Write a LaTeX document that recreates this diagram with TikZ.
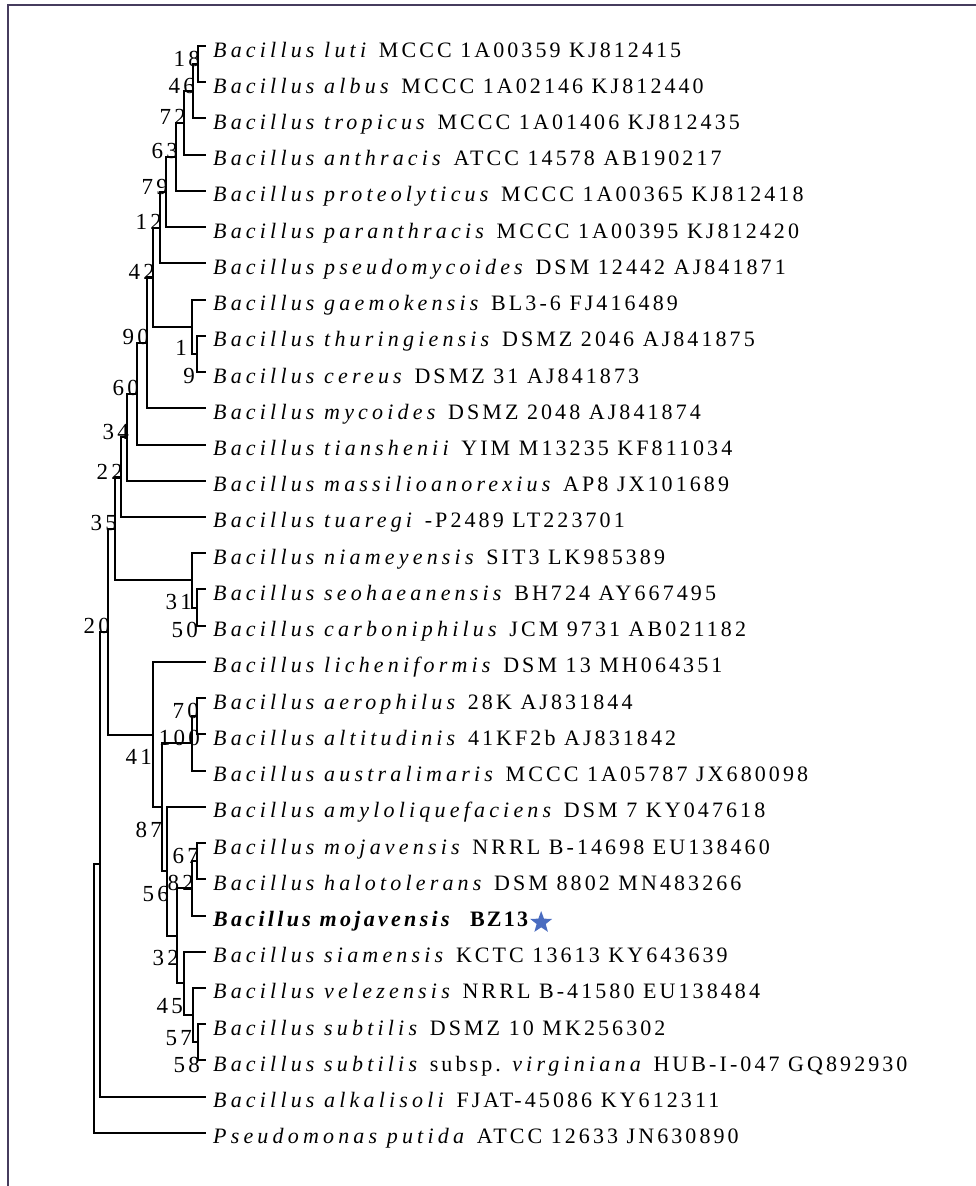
\documentclass[tikz,border=0pt]{standalone}
\usepackage{fontspec}
\setmainfont[LetterSpace=14, ItalicFeatures={LetterSpace=19}, BoldFeatures={LetterSpace=10}, BoldItalicFeatures={LetterSpace=15}]{Liberation Serif}
\usetikzlibrary{positioning, calc, shapes.geometric}
\definecolor{frameline}{HTML}{463C5E}
\definecolor{starblue}{HTML}{4A6CC0}

\begin{document}
\begin{tikzpicture}[
    x=1pt, y=-1pt,
    branch/.style={line width=2pt, line cap=rect},
    framebox/.style={draw=frameline, line width=2pt},
    leaf/.style={
        anchor=west,
        inner xsep=8pt,
        inner ysep=0pt,
        text height=22pt,
        text depth=0pt,
        font=\fontsize{22}{25}\selectfont
    },
    under/.style={leaf, below=36.23pt of #1.west, anchor=west},
    boot/.style={
        anchor=base east,
        inner sep=0pt,
        xshift=2pt,
        yshift=-2pt,
        font=\fontsize{23}{26}\selectfont
    },
    bootlow/.style={boot, yshift=-28pt},
    starmark/.style={
        star, star points=5, star point ratio=2.4,
        minimum size=23pt, inner sep=0pt, fill=starblue
    }
]
\useasboundingbox (0,0) rectangle (976,1186);

% Frame
\draw[framebox] (976,5) -| (8,1186);

% Leaves
\node[leaf] (luti) at (205,46) {\textit{Bacillus luti} MCCC 1A00359 KJ812415};
\node[under=luti] (albus) {\textit{Bacillus albus} MCCC 1A02146 KJ812440};
\node[under=albus] (tropicus) {\textit{Bacillus tropicus} MCCC 1A01406 KJ812435};
\node[under=tropicus] (anthracis) {\textit{Bacillus anthracis} ATCC 14578 AB190217};
\node[under=anthracis] (proteolyticus) {\textit{Bacillus proteolyticus} MCCC 1A00365 KJ812418};
\node[under=proteolyticus] (paranthracis) {\textit{Bacillus paranthracis} MCCC 1A00395 KJ812420};
\node[under=paranthracis] (pseudomycoides) {\textit{Bacillus pseudomycoides} DSM 12442 AJ841871};
\node[under=pseudomycoides] (gaemokensis) {\textit{Bacillus gaemokensis} BL3-6 FJ416489};
\node[under=gaemokensis] (thuringiensis) {\textit{Bacillus thuringiensis} DSMZ 2046 AJ841875};
\node[under=thuringiensis] (cereus) {\textit{Bacillus cereus} DSMZ 31 AJ841873};
\node[under=cereus] (mycoides) {\textit{Bacillus mycoides} DSMZ 2048 AJ841874};
\node[under=mycoides] (tianshenii) {\textit{Bacillus tianshenii} YIM M13235 KF811034};
\node[under=tianshenii] (massilio) {\textit{Bacillus massilioanorexius} AP8 JX101689};
\node[under=massilio] (tuaregi) {\textit{Bacillus tuaregi} -P2489 LT223701};
\node[under=tuaregi] (niameyensis) {\textit{Bacillus niameyensis} SIT3 LK985389};
\node[under=niameyensis] (seohaeanensis) {\textit{Bacillus seohaeanensis} BH724 AY667495};
\node[under=seohaeanensis] (carboniphilus) {\textit{Bacillus carboniphilus} JCM 9731 AB021182};
\node[under=carboniphilus] (licheniformis) {\textit{Bacillus licheniformis} DSM 13 MH064351};
\node[under=licheniformis] (aerophilus) {\textit{Bacillus aerophilus} 28K AJ831844};
\node[under=aerophilus] (altitudinis) {\textit{Bacillus altitudinis} 41KF2b AJ831842};
\node[under=altitudinis] (australimaris) {\textit{Bacillus australimaris} MCCC 1A05787 JX680098};
\node[under=australimaris] (amylo) {\textit{Bacillus amyloliquefaciens} DSM 7 KY047618};
\node[under=amylo] (mojavensis) {\textit{Bacillus mojavensis} NRRL B-14698 EU138460};
\node[under=mojavensis] (halotolerans) {\textit{Bacillus halotolerans} DSM 8802 MN483266};
\node[under=halotolerans] (bz13) {\textbf{\textit{Bacillus mojavensis}}\ \ \textbf{BZ13}};
\node[starmark, right=-4pt of bz13, yshift=-7pt] (bzstar) {};
\node[under=bz13] (siamensis) {\textit{Bacillus siamensis} KCTC 13613 KY643639};
\node[under=siamensis] (velezensis) {\textit{Bacillus velezensis} NRRL B-41580 EU138484};
\node[under=velezensis] (subtilis) {\textit{Bacillus subtilis} DSMZ 10 MK256302};
\node[under=subtilis] (virginiana) {\textit{Bacillus subtilis} subsp. \textit{virginiana} HUB-I-047 GQ892930};
\node[under=virginiana] (alkalisoli) {\textit{Bacillus alkalisoli} FJAT-45086 KY612311};
\node[under=alkalisoli] (putida) {\textit{Pseudomonas putida} ATCC 12633 JN630890};

% Internal nodes
\coordinate (n18) at ($(198,0 |- luti.west)!0.5!(198,0 |- albus.west)$);
\coordinate (n46) at ($(193,0 |- n18)!0.5!(193,0 |- tropicus.west)$);
\coordinate (n72) at ($(184,0 |- n46)!0.5!(184,0 |- anthracis.west)$);
\coordinate (n63) at ($(176,0 |- n72)!0.5!(176,0 |- proteolyticus.west)$);
\coordinate (n79) at ($(166,0 |- n63)!0.5!(166,0 |- paranthracis.west)$);
\coordinate (n12) at ($(160,0 |- n79)!0.5!(160,0 |- pseudomycoides.west)$);
\coordinate (n1) at ($(197,0 |- thuringiensis.west)!0.5!(197,0 |- cereus.west)$);
\coordinate (n9) at ($(192,0 |- gaemokensis.west)!0.5!(192,0 |- n1)$);
\coordinate (n42) at ($(153,0 |- n12)!0.5!(153,0 |- n9)$);
\coordinate (n90) at ($(147,0 |- n42)!0.5!(147,0 |- mycoides.west)$);
\coordinate (n60) at ($(137,0 |- n90)!0.5!(137,0 |- tianshenii.west)$);
\coordinate (n34) at ($(127,0 |- n60)!0.5!(127,0 |- massilio.west)$);
\coordinate (n22) at ($(121,0 |- n34)!0.5!(121,0 |- tuaregi.west)$);
\coordinate (n31) at ($(197,0 |- seohaeanensis.west)!0.5!(197,0 |- carboniphilus.west)$);
\coordinate (n50) at ($(192,0 |- niameyensis.west)!0.5!(192,0 |- n31)$);
\coordinate (n35) at ($(115,0 |- n22)!0.5!(115,0 |- n50)$);
\coordinate (n70) at ($(197,0 |- aerophilus.west)!0.5!(197,0 |- altitudinis.west)$);
\coordinate (n100) at ($(192,0 |- n70)!0.5!(192,0 |- australimaris.west)$);
\coordinate (n67) at ($(197,0 |- mojavensis.west)!0.5!(197,0 |- halotolerans.west)$);
\coordinate (n82) at ($(192,0 |- n67)!0.5!(192,0 |- bz13.west)$);
\coordinate (n58) at ($(198,0 |- subtilis.west)!0.5!(198,0 |- virginiana.west)$);
\coordinate (n57) at ($(193,0 |- velezensis.west)!0.5!(193,0 |- n58)$);
\coordinate (n45) at ($(184,0 |- siamensis.west)!0.5!(184,0 |- n57)$);
\coordinate (n32) at ($(177,0 |- n82)!0.5!(177,0 |- n45)$);
\coordinate (n56) at ($(167,0 |- amylo.west)!0.5!(167,0 |- n32)$);
\coordinate (n87) at ($(162,0 |- n100)!0.5!(162,0 |- n56)$);
\coordinate (n41) at ($(153,0 |- licheniformis.west)!0.5!(153,0 |- n87)$);
\coordinate (n20) at ($(108,0 |- n35)!0.5!(108,0 |- n41)$);
\coordinate (nalk) at ($(100,0 |- n20)!0.5!(100,0 |- alkalisoli.west)$);
\coordinate (root) at ($(94,0 |- nalk)!0.5!(94,0 |- putida.west)$);

% Branches
\draw[branch] (luti.west) -| (n18) |- (albus.west);
\draw[branch] (n18) -| (n46) |- (tropicus.west);
\draw[branch] (n46) -| (n72) |- (anthracis.west);
\draw[branch] (n72) -| (n63) |- (proteolyticus.west);
\draw[branch] (n63) -| (n79) |- (paranthracis.west);
\draw[branch] (n79) -| (n12) |- (pseudomycoides.west);
\draw[branch] (thuringiensis.west) -| (n1) |- (cereus.west);
\draw[branch] (gaemokensis.west) -| (n9) |- (n1);
\draw[branch] (n12) -| (n42) |- (n9);
\draw[branch] (n42) -| (n90) |- (mycoides.west);
\draw[branch] (n90) -| (n60) |- (tianshenii.west);
\draw[branch] (n60) -| (n34) |- (massilio.west);
\draw[branch] (n34) -| (n22) |- (tuaregi.west);
\draw[branch] (seohaeanensis.west) -| (n31) |- (carboniphilus.west);
\draw[branch] (niameyensis.west) -| (n50) |- (n31);
\draw[branch] (n22) -| (n35) |- (n50);
\draw[branch] (aerophilus.west) -| (n70) |- (altitudinis.west);
\draw[branch] (n70) -| (n100) |- (australimaris.west);
\draw[branch] (mojavensis.west) -| (n67) |- (halotolerans.west);
\draw[branch] (n67) -| (n82) |- (bz13.west);
\draw[branch] (subtilis.west) -| (n58) |- (virginiana.west);
\draw[branch] (velezensis.west) -| (n57) |- (n58);
\draw[branch] (siamensis.west) -| (n45) |- (n57);
\draw[branch] (n82) -| (n32) |- (n45);
\draw[branch] (amylo.west) -| (n56) |- (n32);
\draw[branch] (n100) -| (n87) |- (n56);
\draw[branch] (licheniformis.west) -| (n41) |- (n87);
\draw[branch] (n35) -| (n20) |- (n41);
\draw[branch] (n20) -| (nalk) |- (alkalisoli.west);
\draw[branch] (nalk) -| (root) |- (putida.west);

% Bootstrap values
\node[boot] (b18) at (n18) {18};
\node[boot] (b46) at (n46) {46};
\node[boot] (b72) at (n72) {72};
\node[boot] (b63) at (n63) {63};
\node[boot] (b79) at (n79) {79};
\node[boot] (b12) at (n12) {12};
\node[boot] (b42) at (n42) {42};
\node[boot] (b90) at (n90) {90};
\node[boot, xshift=-12pt] (b1) at (n1) {1};
\node[bootlow, xshift=-4pt] (b9) at (n1) {9};
\node[boot] (b60) at (n60) {60};
\node[boot] (b34) at (n34) {34};
\node[boot] (b22) at (n22) {22};
\node[boot] (b35) at (n35) {35};
\node[boot, xshift=-7pt] (b31) at (n31) {31};
\node[bootlow, xshift=-1pt] (b50) at (n31) {50};
\node[boot] (b20) at (n20) {20};
\node[boot] (b70) at (n70) {70};
\node[boot, xshift=6pt] (b100) at (n100) {100};
\node[bootlow, xshift=-3pt] (b41) at (n41) {41};
\node[bootlow, xshift=-2pt] (b87) at (n87) {87};
\node[boot] (b67) at (n67) {67};
\node[boot] (b82) at (n82) {82};
\node[bootlow] (b56) at (n56) {56};
\node[bootlow] (b32) at (n32) {32};
\node[bootlow, xshift=-3pt] (b45) at (n45) {45};
\node[bootlow, xshift=-3pt] (b57) at (n57) {57};
\node[bootlow] (b58) at (n58) {58};

\end{tikzpicture}
\end{document}
